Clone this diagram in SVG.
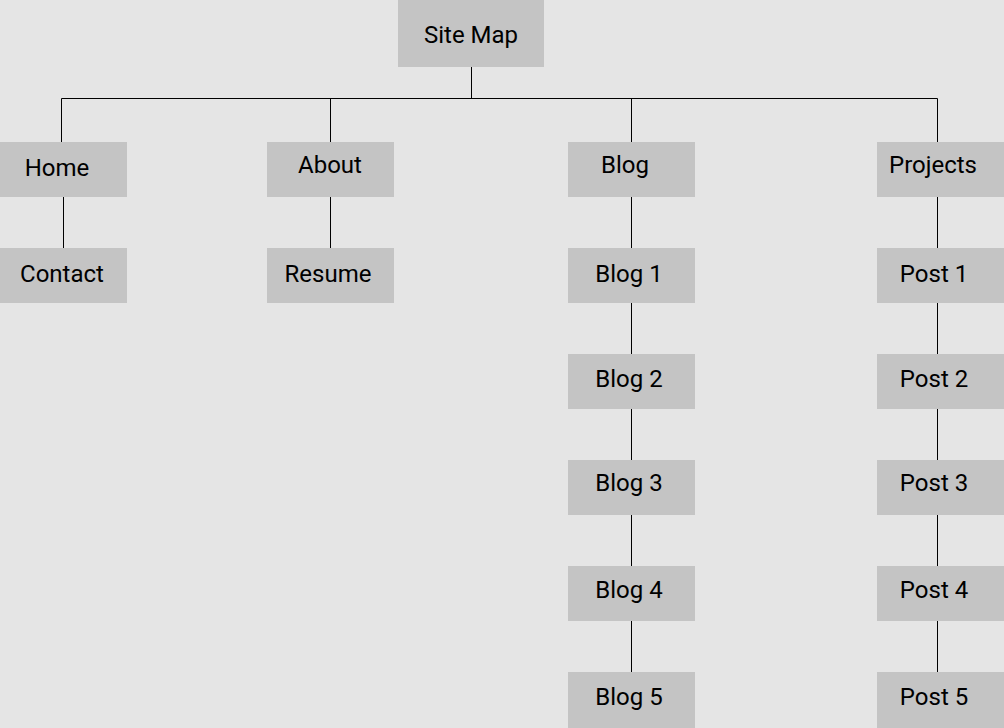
<svg xmlns="http://www.w3.org/2000/svg" width="1004" height="728" viewBox="0 0 1004 728">
<style>
.box{fill:#c4c4c4}
.lbl{font-family:Roboto,"Liberation Sans",sans-serif;font-size:24px;fill:#000;text-anchor:middle}
.ln{stroke:#000;stroke-width:1;fill:none}
</style>
<rect width="1004" height="728" fill="#e5e5e5"/>
<g id="connectors">
<path class="ln" d="M471.5 67V98.5M61.5 98.5H937.5M61.5 98.5V142M330.5 98.5V142M631.5 98.5V142M937.5 98.5V142"/>
<path class="ln" d="M63.5 197V248M330.5 197V248"/>
<path class="ln" d="M631.5 197V248M631.5 303V354M631.5 409V460M631.5 515V566M631.5 621V672"/>
<path class="ln" d="M937.5 197V248M937.5 303V354M937.5 409V460M937.5 515V566M937.5 621V672"/>
</g>
<g id="sitemap"><rect class="box" x="398" y="0" width="146" height="67"/><text class="lbl" x="471" y="43">Site Map</text></g>
<g id="home"><rect class="box" x="0" y="142" width="127" height="55"/><text class="lbl" x="57" y="176">Home</text></g>
<g id="contact"><rect class="box" x="0" y="248" width="127" height="55"/><text class="lbl" x="62" y="282">Contact</text></g>
<g id="about"><rect class="box" x="267" y="142" width="127" height="55"/><text class="lbl" x="330" y="173">About</text></g>
<g id="resume"><rect class="box" x="267" y="248" width="127" height="55"/><text class="lbl" x="328" y="282">Resume</text></g>
<g id="blog"><rect class="box" x="568" y="142" width="127" height="55"/><text class="lbl" x="625" y="173">Blog</text></g>
<g id="blog1"><rect class="box" x="568" y="248" width="127" height="55"/><text class="lbl" x="629" y="282">Blog 1</text></g>
<g id="blog2"><rect class="box" x="568" y="354" width="127" height="55"/><text class="lbl" x="629" y="387">Blog 2</text></g>
<g id="blog3"><rect class="box" x="568" y="460" width="127" height="55"/><text class="lbl" x="629" y="491">Blog 3</text></g>
<g id="blog4"><rect class="box" x="568" y="566" width="127" height="55"/><text class="lbl" x="629" y="598">Blog 4</text></g>
<g id="blog5"><rect class="box" x="568" y="672" width="127" height="56"/><text class="lbl" x="629" y="705">Blog 5</text></g>
<g id="projects"><rect class="box" x="877" y="142" width="127" height="55"/><text class="lbl" x="933" y="173">Projects</text></g>
<g id="post1"><rect class="box" x="877" y="248" width="127" height="55"/><text class="lbl" x="934" y="282">Post 1</text></g>
<g id="post2"><rect class="box" x="877" y="354" width="127" height="55"/><text class="lbl" x="934" y="387">Post 2</text></g>
<g id="post3"><rect class="box" x="877" y="460" width="127" height="55"/><text class="lbl" x="934" y="491">Post 3</text></g>
<g id="post4"><rect class="box" x="877" y="566" width="127" height="55"/><text class="lbl" x="934" y="598">Post 4</text></g>
<g id="post5"><rect class="box" x="877" y="672" width="127" height="56"/><text class="lbl" x="934" y="705">Post 5</text></g>
</svg>
